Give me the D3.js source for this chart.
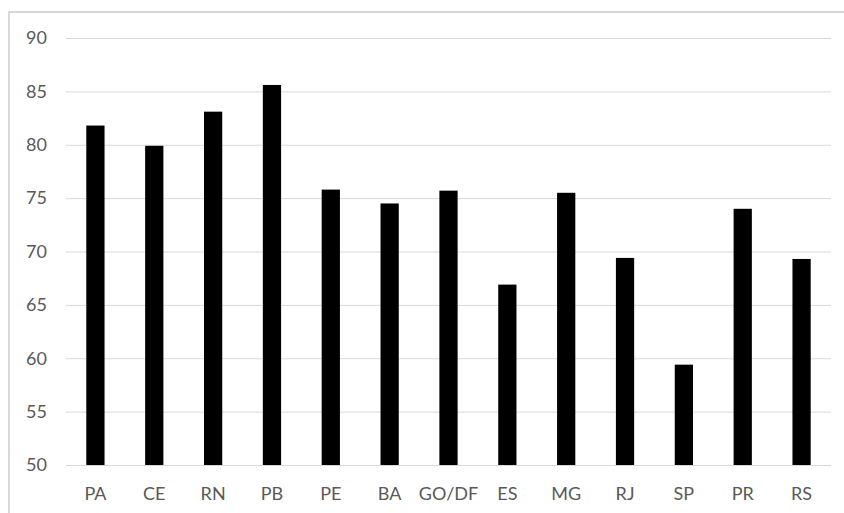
<!DOCTYPE html>
<html>
<head>
<meta charset="utf-8">
<script src="https://cdn.jsdelivr.net/npm/d3@7/dist/d3.min.js"></script>
<style>
  html, body { margin: 0; padding: 0; background: #fff; }
  svg { display: block; }
  text { font-family: Lato, "Open Sans", sans-serif; fill: #595959; }
</style>
</head>
<body>
<svg id="chart" width="844" height="513"></svg>
<script>
// States and their values
const categories = ["PA", "CE", "RN", "PB", "PE", "BA", "GO/DF", "ES", "MG", "RJ", "SP", "PR", "RS"];
const values = [81.8, 79.9, 83.1, 85.6, 75.8, 74.5, 75.7, 66.9, 75.5, 69.4, 59.4, 74.0, 69.3];
const yTicks = [50, 55, 60, 65, 70, 75, 80, 85, 90];

const svg = d3.select("#chart");
const W = 844, H = 513;
const plot = { left: 66, right: 831, top: 38, bottom: 465 };

// chart area frame
svg.append("rect")
  .attr("x", 9).attr("y", 12)
  .attr("width", W + 10).attr("height", H + 10)
  .attr("fill", "none")
  .attr("stroke", "#d9d9d9")
  .attr("stroke-width", 2);

const x = d3.scaleBand()
  .domain(categories)
  .range([plot.left, plot.right])
  .paddingInner(0.69)
  .paddingOuter(0.345);

const y = d3.scaleLinear()
  .domain([50, 90])
  .range([plot.bottom, plot.top]);

// horizontal gridlines with value labels
const yAxis = d3.axisLeft(y)
  .tickValues(yTicks)
  .tickSize(-(plot.right - plot.left))
  .tickPadding(19);

const gy = svg.append("g")
  .attr("transform", `translate(${plot.left},0)`)
  .call(yAxis);
gy.select(".domain").remove();
gy.selectAll(".tick line").attr("stroke", "#d9d9d9").attr("stroke-width", 1);
gy.selectAll(".tick text")
  .attr("font-size", 18)
  .style("font-family", "Lato, 'Open Sans', sans-serif")
  .attr("fill", "#595959");

// bars
svg.append("g")
  .selectAll("rect")
  .data(categories)
  .join("rect")
  .attr("x", d => x(d))
  .attr("width", x.bandwidth())
  .attr("y", (d, i) => y(values[i]))
  .attr("height", (d, i) => y(50) - y(values[i]))
  .attr("fill", "#000");

// category labels
const xAxis = d3.axisBottom(x).tickSize(0).tickPadding(22);
const gx = svg.append("g")
  .attr("transform", `translate(0,${plot.bottom})`)
  .call(xAxis);
gx.select(".domain").remove();
gx.selectAll(".tick text")
  .attr("font-size", 18)
  .style("font-family", "Lato, 'Open Sans', sans-serif")
  .attr("fill", "#595959");
</script>
</body>
</html>
